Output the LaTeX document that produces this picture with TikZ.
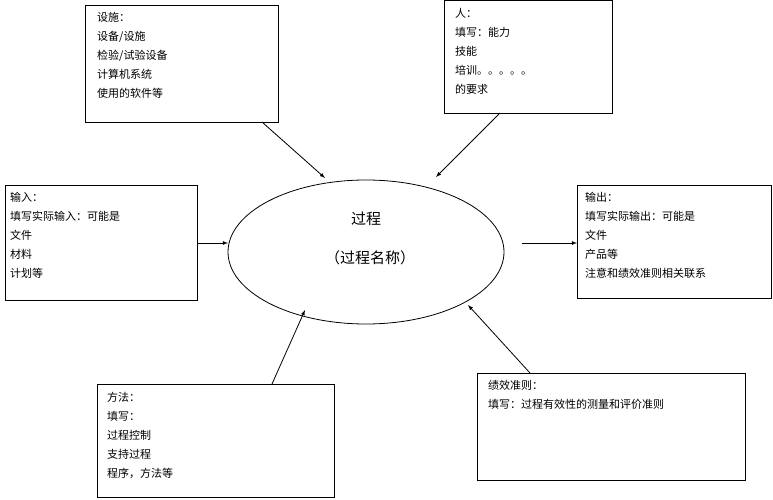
\documentclass[tikz,border=0pt]{standalone}
\usepackage{fontspec}
\setmainfont{Noto Sans CJK SC}
\usetikzlibrary{shapes.geometric}
\tikzset{
  box/.style = {draw, thick, anchor=north west, inner sep=0pt},
  txt/.style = {anchor=north west, align=left, font=\fontsize{11}{19}\selectfont, inner sep=0pt},
  link/.style = {draw, thick, -latex}
}
\begin{document}
\begin{tikzpicture}[x=1pt,y=-1pt]
  \useasboundingbox (0,0) rectangle (773,500);
  % process
  \node[draw, thick, ellipse, minimum width=276pt, minimum height=144pt] (proc) at (366,252) {};
  \node[font=\fontsize{15}{20}\selectfont] (pname) at (366,219) {过程};
  \node[font=\fontsize{15}{20}\selectfont] (psub) at (370,258) {（过程名称）};
  % boxes
  \node[box, minimum width=193pt, minimum height=117pt] (fac) at (85,5) {};
  \node[box, minimum width=168pt, minimum height=113pt] (man) at (444,0) {};
  \node[box, minimum width=192pt, minimum height=115pt] (inp) at (5,185) {};
  \node[box, minimum width=194pt, minimum height=113pt] (outp) at (577,185) {};
  \node[box, minimum width=237pt, minimum height=113pt] (meth) at (97,384) {};
  \node[box, minimum width=268pt, minimum height=107pt] (perf) at (477,373) {};
  % texts
  \node[txt] (facT) at (97,12) {设施：\\设备/设施\\检验/试验设备\\计算机系统\\使用的软件等};
  \node[txt] (manT) at (455,8) {人：\\填写：能力\\技能\\培训。。。。。\\的要求};
  \node[txt] (inpT) at (10,192) {输入：\\填写实际输入：可能是\\文件\\材料\\计划等};
  \node[txt] (outpT) at (585,192) {输出：\\填写实际输出：可能是\\文件\\产品等\\注意和绩效准则相关联系};
  \node[txt] (methT) at (107,392) {方法：\\填写：\\过程控制\\支持过程\\程序，方法等};
  \node[txt] (perfT) at (488,380) {绩效准则：\\填写：过程有效性的测量和评价准则};
  % arrows
  \coordinate (outS) at (522,243);
  \path[link] (262,122) -- (325,178);
  \path[link] (500,113) -- (436,177);
  \path[link] (inp.east |- 0,243) -- (228,243);
  \path[link] (outS) -- (outp.west |- outS);
  \path[link] (272,384) -- (305,310);
  \path[link] (530,373) -- (468,305);
\end{tikzpicture}
\end{document}
